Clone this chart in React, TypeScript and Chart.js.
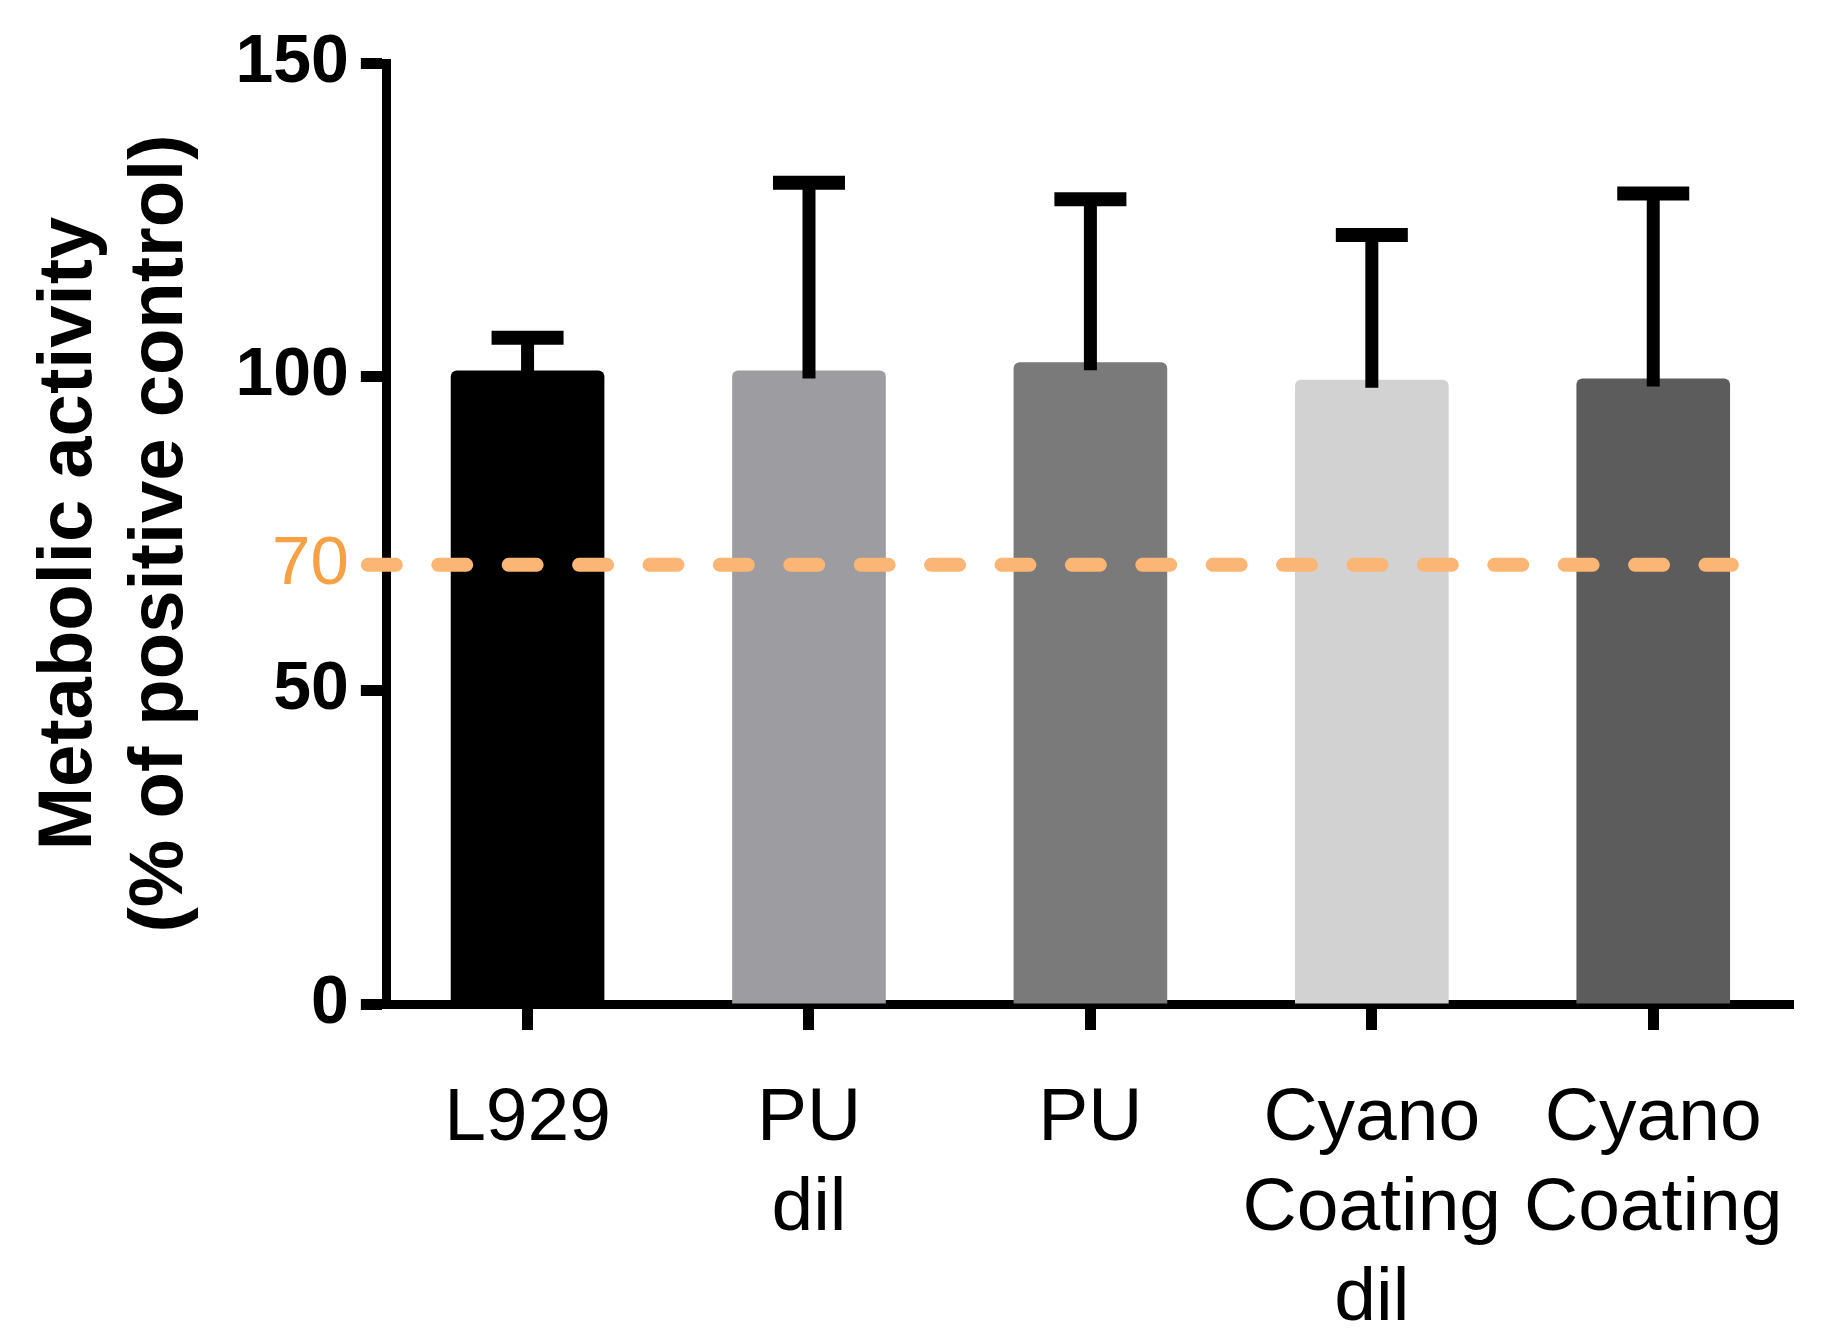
import React, { useEffect, useRef } from 'react';
import { Chart, registerables } from 'chart.js';

Chart.register(...registerables);

// values
const categories = [['L929'], ['PU', 'dil'], ['PU'], ['Cyano', 'Coating', 'dil'], ['Cyano', 'Coating']];
const meanActivity = [101, 101, 102.3, 99.5, 99.7];
const upperError = [106.2, 130.9, 128.3, 122.6, 129.2];
const barColors = ['#000000', '#9d9ca0', '#7b7a7a', '#d3d2d3', '#5d5c5c'];
const yTickValues = [0, 50, 70, 100, 150];
const thresholdValue = 70;

const FONT = '"Liberation Sans", Arial, Helvetica, sans-serif';
const ORANGE_TEXT = '#f7a044';
const ORANGE_LINE = '#fbb574';

// upper SD whiskers drawn on top of each bar
const errorBarPlugin = {
  id: 'errorBars',
  afterDatasetsDraw(chart: any) {
    const { ctx } = chart;
    const y = chart.scales.y;
    const meta = chart.getDatasetMeta(0);
    ctx.save();
    ctx.strokeStyle = '#000';
    ctx.lineCap = 'butt';
    meta.data.forEach((bar: any, i: number) => {
      const top = y.getPixelForValue(upperError[i]);
      ctx.lineWidth = 13;
      ctx.beginPath();
      ctx.moveTo(bar.x, bar.y + 8);
      ctx.lineTo(bar.x, top);
      ctx.stroke();
      ctx.lineWidth = 14;
      ctx.beginPath();
      ctx.moveTo(bar.x - 36, top);
      ctx.lineTo(bar.x + 36, top);
      ctx.stroke();
    });
    ctx.restore();
  },
};

// dashed 70 % threshold line
const thresholdPlugin = {
  id: 'threshold',
  afterDraw(chart: any) {
    const { ctx, chartArea } = chart;
    const py = chart.scales.y.getPixelForValue(thresholdValue);
    ctx.save();
    ctx.strokeStyle = ORANGE_LINE;
    ctx.lineWidth = 14;
    ctx.lineCap = 'round';
    ctx.setLineDash([28, 42.4]);
    ctx.beginPath();
    ctx.moveTo(chartArea.left - 19, py);
    ctx.lineTo(chartArea.right - 62, py);
    ctx.stroke();
    ctx.restore();
  },
};

const App: React.FC = () => {
  const canvasRef = useRef<HTMLCanvasElement>(null);

  useEffect(() => {
    if (!canvasRef.current) return;
    const chart = new Chart(canvasRef.current, {
      type: 'bar',
      data: {
        labels: categories,
        datasets: [
          {
            data: meanActivity,
            backgroundColor: barColors,
            borderWidth: 0,
            borderRadius: 6,
            borderSkipped: 'start',
            barPercentage: 0.546,
            categoryPercentage: 1,
          },
        ],
      },
      options: {
        animation: false,
        responsive: true,
        maintainAspectRatio: false,
        layout: { padding: { top: 63, right: 25, left: 10, bottom: -46 } },
        plugins: {
          legend: { display: false },
          tooltip: { enabled: false },
        },
        scales: {
          x: {
            z: 1,
            offset: true,
            grid: {
              offset: false,
              drawOnChartArea: false,
              drawTicks: true,
              tickLength: 26,
              tickWidth: 11,
              tickColor: '#000',
            },
            border: { display: true, width: 9, color: '#000' },
            ticks: {
              color: '#000',
              padding: 44,
              maxRotation: 0,
              autoSkip: false,
              font: { family: FONT, size: 75, lineHeight: 1.2 },
            },
          },
          y: {
            min: 0,
            max: 150,
            afterBuildTicks: (scale: any) => {
              scale.ticks = yTickValues.map((value) => ({ value }));
            },
            grid: {
              drawOnChartArea: false,
              drawTicks: true,
              tickLength: 26,
              tickWidth: 11,
              tickColor: (ctx: any) => (ctx.tick && ctx.tick.value === thresholdValue ? 'rgba(0,0,0,0)' : '#000'),
            },
            border: { display: true, width: 9, color: '#000' },
            ticks: {
              padding: 12,
              color: (ctx: any) => (ctx.tick && ctx.tick.value === thresholdValue ? ORANGE_TEXT : '#000'),
              font: (ctx: any) =>
                ctx.tick && ctx.tick.value === thresholdValue
                  ? { family: FONT, size: 69, weight: 'normal', lineHeight: 1.2 }
                  : { family: FONT, size: 68, weight: 'bold', lineHeight: 1.2 },
              callback: (value: any) => String(value),
            },
            title: {
              display: true,
              text: ['Metabolic activity', '(% of positive control)'],
              color: '#000',
              font: { family: FONT, size: 76, weight: 'bold', lineHeight: 1.2 },
              padding: { top: 14, bottom: 17 },
            },
          },
        },
      },
      plugins: [errorBarPlugin, thresholdPlugin],
    });
    return () => {
      chart.destroy();
    };
  }, []);

  return (
    <div style={{ position: 'absolute', left: 0, top: 0, width: 1829, height: 1342, background: '#fff' }}>
      <canvas ref={canvasRef} />
    </div>
  );
};

export default App;
